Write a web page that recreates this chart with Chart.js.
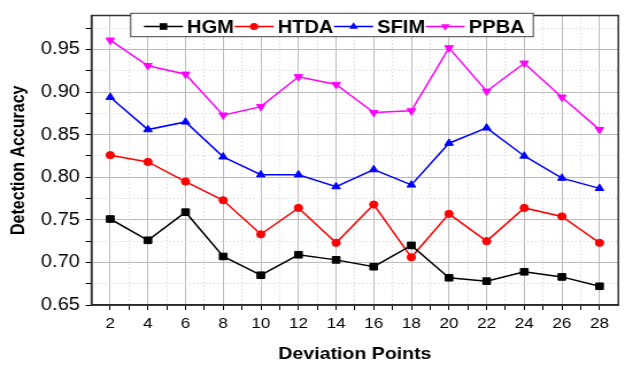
<!DOCTYPE html>
<html>
<head>
<meta charset="utf-8">
<script src="https://cdn.jsdelivr.net/npm/chart.js@4/dist/chart.umd.min.js"></script>
<style>
  html, body { margin: 0; padding: 0; background: #fff; overflow: hidden; }
  #chart { display: block; }
</style>
</head>
<body>
<!-- drawn on a narrower canvas and widened by CSS, giving the wide lettering of the original figure -->
<canvas id="chart" width="544" height="368" style="width:625px;height:368px"></canvas>
<script>
// Deviation points on the x axis
const deviationPoints = [2, 4, 6, 8, 10, 12, 14, 16, 18, 20, 22, 24, 26, 28];

// Detection accuracy of each method
const hgm  = [0.751, 0.726, 0.759, 0.707, 0.685, 0.709, 0.703, 0.695, 0.720, 0.682, 0.678, 0.689, 0.683, 0.672];
const htda = [0.826, 0.818, 0.795, 0.773, 0.733, 0.764, 0.723, 0.768, 0.706, 0.757, 0.725, 0.764, 0.754, 0.723];
const sfim = [0.894, 0.856, 0.865, 0.824, 0.803, 0.803, 0.789, 0.809, 0.791, 0.840, 0.858, 0.825, 0.799, 0.787];
const ppba = [0.961, 0.931, 0.921, 0.873, 0.883, 0.918, 0.909, 0.876, 0.878, 0.952, 0.901, 0.934, 0.894, 0.856];

// Labelled ticks
const xTickValues = [2, 4, 6, 8, 10, 12, 14, 16, 18, 20, 22, 24, 26, 28];
const yTickValues = [0.65, 0.70, 0.75, 0.80, 0.85, 0.90, 0.95];

const FONT = '"Liberation Sans", Arial, Helvetica, sans-serif';

function toPoints(values) {
  return deviationPoints.map((x, i) => ({ x: x, y: values[i] }));
}

function series(label, values, color, style, radius, rotation) {
  return {
    label: label,
    data: toPoints(values),
    borderColor: color,
    backgroundColor: color,
    borderWidth: 1.5,
    pointStyle: style,
    pointRadius: radius,
    pointRotation: rotation || 0,
    pointBorderWidth: 1,
    pointBorderColor: color,
    pointBackgroundColor: color,
    tension: 0,
    fill: false
  };
}

// major ticks plus unlabelled minor ticks halfway between them
function withMinor(majors, half, max) {
  const out = [];
  majors.forEach(v => {
    out.push({ value: v, minor: false });
    const m = +(v + half).toFixed(4);
    if (m < max) out.push({ value: m, minor: true });
  });
  out.sort((a, b) => a.value - b.value);
  return out;
}

const isMinor = ctx => !!(ctx.tick && ctx.tick.minor);

// outer frame of the plot area
const framePlugin = {
  id: 'frame',
  beforeDatasetsDraw(chart) {
    const { ctx, chartArea: a } = chart;
    ctx.save();
    ctx.strokeStyle = '#333';
    ctx.lineWidth = 1.5;
    ctx.strokeRect(a.left, a.top, a.right - a.left, a.bottom - a.top);
    ctx.restore();
  }
};

// boxed legend: line segment with marker, then bold name
function drawMarker(ctx, style, x, y, r, rot) {
  ctx.beginPath();
  if (style === 'rect') {
    const s = Math.SQRT1_2 * r;
    ctx.rect(x - s, y - s, 2 * s, 2 * s);
  } else if (style === 'circle') {
    ctx.arc(x, y, r, 0, Math.PI * 2);
  } else {
    const a0 = (rot || 0) * Math.PI / 180;
    for (let k = 0; k < 3; k++) {
      const a = a0 + k * 2 * Math.PI / 3;
      const px = x + Math.sin(a) * r, py = y - Math.cos(a) * r;
      if (k === 0) ctx.moveTo(px, py); else ctx.lineTo(px, py);
    }
    ctx.closePath();
  }
  ctx.fill();
}

const legendPlugin = {
  id: 'boxLegend',
  afterDraw(chart) {
    const ctx = chart.ctx;
    const sets = chart.data.datasets;
    ctx.save();
    ctx.font = 'bold 17.5px ' + FONT;
    const boxLeft = 113.8, boxTop = 13.3, boxH = 23.4;
    const segLen = 34, gap = 3.5, lineY = 26.5, textY = 33;
    let end = 125.3;
    sets.forEach(d => { end += segLen + gap + ctx.measureText(d.label).width + 0.5; });
    ctx.fillStyle = '#fff';
    ctx.fillRect(boxLeft, boxTop, end + 7 - boxLeft, boxH);
    ctx.strokeStyle = '#444';
    ctx.lineWidth = 1;
    ctx.strokeRect(boxLeft, boxTop, end + 7 - boxLeft, boxH);
    let x = 125.3;
    sets.forEach(d => {
      ctx.strokeStyle = d.borderColor;
      ctx.lineWidth = 1.5;
      ctx.beginPath();
      ctx.moveTo(x, lineY);
      ctx.lineTo(x + segLen, lineY);
      ctx.stroke();
      ctx.fillStyle = d.borderColor;
      drawMarker(ctx, d.pointStyle, x + segLen / 2, lineY, d.pointRadius, d.pointRotation);
      ctx.fillStyle = '#000';
      ctx.textBaseline = 'alphabetic';
      ctx.fillText(d.label, x + segLen + gap, textY);
      x += segLen + gap + ctx.measureText(d.label).width + 0.5;
    });
    ctx.restore();
  }
};

const chart = new Chart(document.getElementById('chart'), {
  type: 'line',
  data: {
    datasets: [
      series('HGM', hgm, '#000000', 'rect', 4.7),
      series('HTDA', htda, '#ff0000', 'circle', 3.6),
      series('SFIM', sfim, '#0000ff', 'triangle', 4.3),
      series('PPBA', ppba, '#ff00ff', 'triangle', 4.3, 180)
    ]
  },
  options: {
    responsive: false,
    devicePixelRatio: 1,
    animation: false,
    layout: { padding: { left: 0, right: 5.8, top: 5, bottom: 0 } },
    plugins: {
      legend: { display: false },
      tooltip: { enabled: false }
    },
    scales: {
      x: {
        type: 'linear',
        position: 'bottom',
        min: 1,
        max: 29,
        afterBuildTicks: s => { s.ticks = withMinor(xTickValues, 1, 29); },
        afterFit: s => { s.height = 63; },
        ticks: {
          autoSkip: false,
          maxRotation: 0,
          padding: 5,
          color: '#000',
          font: { family: FONT, size: 15 },
          callback: (v, i, ticks) => ticks[i].minor ? '' : String(v)
        },
        grid: {
          color: ctx => isMinor(ctx) ? '#dcdcdc' : '#bcbcbc',
          lineWidth: 1,
          tickColor: '#000',
          tickLength: 5,
          tickWidth: 1
        },
        border: {
          display: true,
          color: '#000',
          width: 1.5,
          dash: ctx => isMinor(ctx) ? [1.5, 2] : []
        },
        title: {
          display: true,
          text: 'Deviation Points',
          color: '#000',
          font: { family: FONT, size: 17, weight: 'bold' },
          padding: { top: 0, bottom: 3 }
        }
      },
      y: {
        type: 'linear',
        position: 'left',
        min: 0.65,
        max: 0.99,
        afterBuildTicks: s => { s.ticks = withMinor(yTickValues, 0.025, 0.99); },
        afterFit: s => { s.width = 79.6; },
        ticks: {
          autoSkip: false,
          padding: 5,
          color: '#000',
          font: { family: FONT, size: 17.5 },
          callback: (v, i, ticks) => ticks[i].minor ? '' : v.toFixed(2)
        },
        grid: {
          color: ctx => isMinor(ctx) ? '#dcdcdc' : '#bcbcbc',
          lineWidth: 1,
          tickColor: '#000',
          tickLength: 5,
          tickWidth: 1
        },
        border: {
          display: true,
          color: '#000',
          width: 1.5,
          dash: ctx => isMinor(ctx) ? [1.5, 2] : []
        },
        title: {
          display: true,
          text: 'Detection Accuracy',
          color: '#000',
          font: { family: FONT, size: 16, weight: 'bold' },
          padding: { top: 6.7, bottom: 0 }
        }
      }
    }
  },
  plugins: [framePlugin, legendPlugin]
});

chart.canvas.style.width = '625px';
chart.canvas.style.height = '368px';
</script>
</body>
</html>
